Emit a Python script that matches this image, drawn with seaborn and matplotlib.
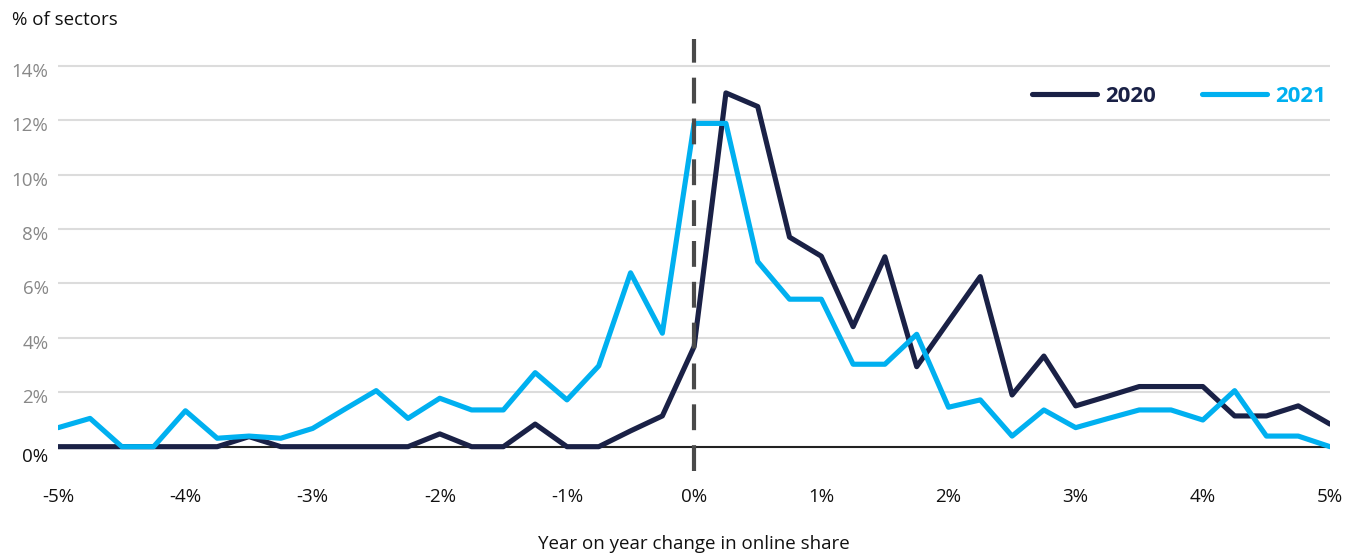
import numpy as np
import pandas as pd
import matplotlib
matplotlib.use("Agg")
import matplotlib.pyplot as plt
import matplotlib.transforms as mtransforms
import seaborn as sns

# Year-on-year change in online share (percentage points), in quarter-point bins
change = [i / 4 for i in range(-20, 21)]

# Share of sectors (%) falling into each bin
share_2020 = [0, 0, 0, 0, 0, 0, 0.37, 0, 0, 0, 0, 0, 0.47, 0, 0, 0.83, 0, 0,
              0.58, 1.13, 3.68, 13.0, 12.5, 7.7, 7.0, 4.41, 6.98, 2.94, 4.6,
              6.25, 1.9, 3.33, 1.5, 1.85, 2.21, 2.21, 2.21, 1.13, 1.13, 1.5,
              0.83]
share_2021 = [0.7, 1.04, 0, 0, 1.32, 0.31, 0.39, 0.31, 0.67, 1.37, 2.06, 1.04,
              1.78, 1.35, 1.35, 2.72, 1.72, 2.97, 6.39, 4.17, 11.88, 11.88,
              6.8, 5.42, 5.42, 3.03, 3.03, 4.13, 1.45, 1.72, 0.39, 1.35, 0.7,
              1.03, 1.35, 1.35, 0.98, 2.06, 0.39, 0.39, 0]

years = ["2020", "2021"]
colors = {"2020": "#1a2146", "2021": "#00b0f0"}

y_ticks = [0, 2, 4, 6, 8, 10, 12, 14]
x_ticks = [-5, -4, -3, -2, -1, 0, 1, 2, 3, 4, 5]

df = pd.concat([
    pd.DataFrame({"change": change, "share": share_2020, "year": "2020"}),
    pd.DataFrame({"change": change, "share": share_2021, "year": "2021"}),
])

sns.set_theme(style="white")
plt.rcParams["font.family"] = ["Open Sans", "DejaVu Sans"]

fig = plt.figure(figsize=(13.58, 5.54), dpi=100)
ax = fig.add_axes([0.0429, 0.1495, 0.9365, 0.781])

# Light horizontal gridlines (the zero line is drawn separately)
for v in y_ticks[1:]:
    ax.axhline(v, color="#dcdcdc", lw=1.5, zorder=0)
ax.axhline(0, color="#222222", lw=1.5, zorder=1)

sns.lineplot(data=df, x="change", y="share", hue="year", hue_order=years,
             palette=colors, estimator=None, sort=False, lw=3.7,
             ax=ax, zorder=3)

# Zero-change reference
ax.axvline(0, color="#4a4a4a", lw=3.0, dashes=(6.2, 3.6), zorder=4)

ax.set_xlim(-5, 5)
ax.set_ylim(-0.9, 15.0)
for s in ax.spines.values():
    s.set_visible(False)

ax.set_xticks(x_ticks)
ax.set_xticklabels([f"{t}%" for t in x_ticks], fontsize=13.5, color="#111111")
ax.set_yticks(y_ticks)
ax.set_yticklabels([f"{t}%" for t in y_ticks], fontsize=13.5)
ax.tick_params(axis="both", length=0)
ax.tick_params(axis="x", pad=12)
ax.tick_params(axis="y", pad=7)

for lab, v in zip(ax.get_yticklabels(), y_ticks):
    lab.set_color("#111111" if v == 0 else "#888888")
    dy = -8 if v == 0 else -4
    lab.set_transform(lab.get_transform() +
                      mtransforms.ScaledTranslation(0, dy / 100, fig.dpi_scale_trans))

ax.set_xlabel("Year on year change in online share", fontsize=13.5,
              color="#111111", labelpad=21)
ax.set_ylabel("")

fig.text(12 / 1358, 1 - 20 / 554, "% of sectors", fontsize=13.5,
         color="#111111", va="center", ha="left")

handles, labels = ax.get_legend_handles_labels()
leg = ax.legend(handles, labels, loc="upper right", bbox_to_anchor=(1.0, 0.90),
                ncol=2, frameon=False, handlelength=2.9, handletextpad=0.36,
                columnspacing=2.1, borderaxespad=0, borderpad=0.2,
                prop={"size": 16, "weight": "bold"})
for txt, yr in zip(leg.get_texts(), labels):
    txt.set_color(colors[yr])
for line in leg.get_lines():
    line.set_linewidth(3.7)

fig.savefig("out.png", dpi=100)
